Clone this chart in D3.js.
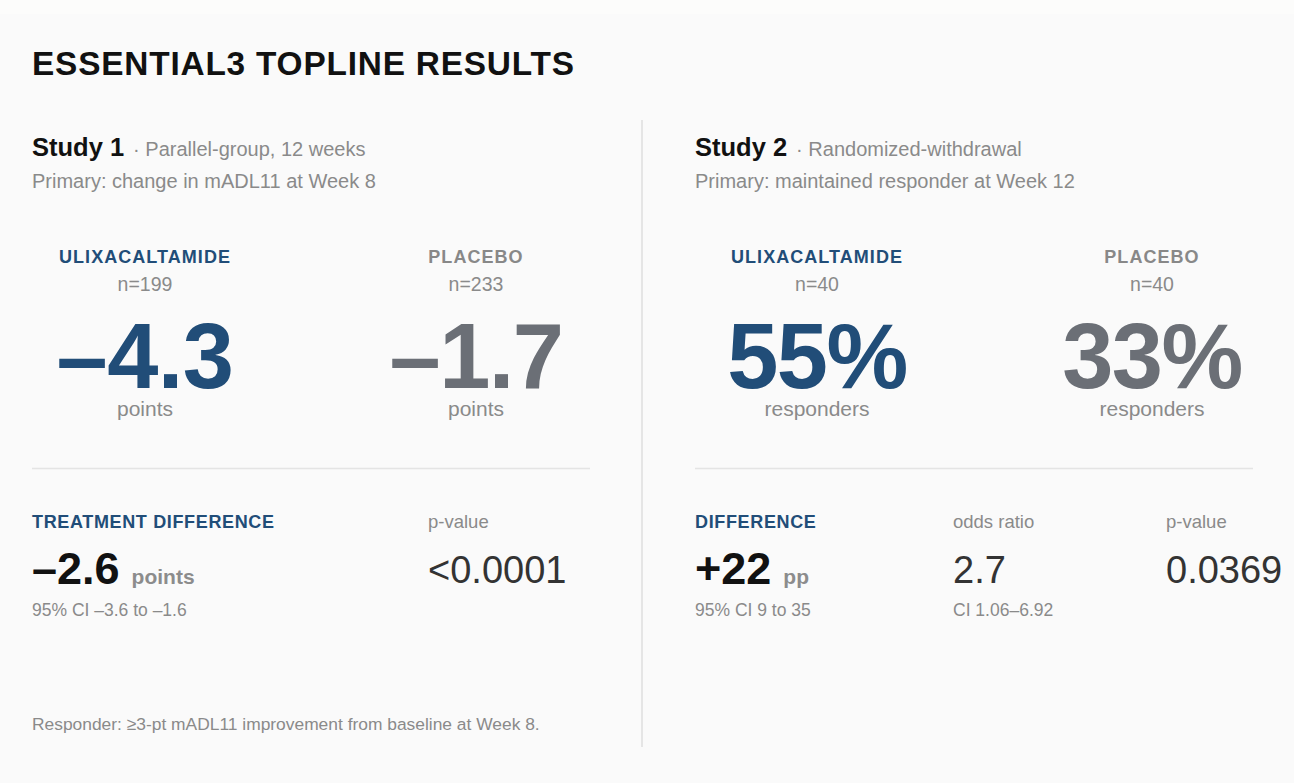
<!DOCTYPE html>
<html>
<head>
<meta charset="utf-8">
<script src="https://cdn.jsdelivr.net/npm/d3@7"></script>
<style>
  html, body { margin: 0; padding: 0; background: #fafafa; }
  svg { display: block; font-family: "Liberation Sans", Arial, Helvetica, sans-serif; }
</style>
</head>
<body>
<div id="chart"></div>
<script>
// Data
const title = "ESSENTIAL3 TOPLINE RESULTS";
const studies = ["Study 1", "Study 2"];
const designs = ["Parallel-group, 12 weeks", "Randomized-withdrawal"];
const primaries = ["Primary: change in mADL11 at Week 8", "Primary: maintained responder at Week 12"];
const arms = ["ULIXACALTAMIDE", "PLACEBO"];
const armN = [[199, 233], [40, 40]];
const armValues = [["–4.3", "–1.7"], ["55%", "33%"]];
const armUnits = ["points", "responders"];
const diffLabels = ["TREATMENT DIFFERENCE", "DIFFERENCE"];
const diffValues = ["–2.6", "+22"];
const diffUnits = ["points", "pp"];
const diffCIs = ["95% CI –3.6 to –1.6", "95% CI 9 to 35"];
const statLabels = [["p-value"], ["odds ratio", "p-value"]];
const statValues = [["<0.0001"], ["2.7", "0.0369"]];
const statNotes = [[""], ["CI 1.06–6.92", ""]];
const footnote = "Responder: ≥3-pt mADL11 improvement from baseline at Week 8.";

const width = 1294, height = 783;
const blue = "#214d78", grayBig = "#6b6f76", grayText = "#8a8a8a", dark = "#333";

const svg = d3.select("#chart").append("svg")
    .attr("width", width)
    .attr("height", height);

svg.append("rect").attr("width", width).attr("height", height).attr("fill", "#fafafa");
svg.append("rect").attr("width", width).attr("height", 14).attr("fill", "#fcfcfb");

svg.append("text")
    .attr("x", 32).attr("y", 75)
    .attr("font-size", 33.4).attr("font-weight", "bold")
    .attr("letter-spacing", 0.8)
    .attr("fill", "#111")
    .text(title);

// panel left edges and arm column centres
const panelX = d3.scaleOrdinal().domain(studies).range([32, 695]);
const armX = [
    d3.scalePoint().domain(arms).range([145, 476]),
    d3.scalePoint().domain(arms).range([817, 1152])
];
const statX = [[428], [953, 1166]];

// divider between panels
svg.append("line")
    .attr("x1", 642).attr("x2", 642)
    .attr("y1", 120).attr("y2", 747)
    .attr("stroke", "#dedede").attr("stroke-width", 1.5);

studies.forEach((s, i) => {
    const x0 = panelX(s);
    const g = svg.append("g");

    const head = g.append("text").attr("x", x0).attr("y", 156);
    head.append("tspan")
        .attr("font-size", 25.5).attr("font-weight", "bold").attr("fill", "#111")
        .text(s);
    head.append("tspan")
        .attr("font-size", 20).attr("fill", grayText)
        .attr("dx", 9)
        .text("· " + designs[i]);

    g.append("text")
        .attr("x", x0).attr("y", 188)
        .attr("font-size", 20).attr("fill", grayText)
        .text(primaries[i]);

    // arms
    arms.forEach((a, j) => {
        const cx = armX[i](a);
        const col = j === 0 ? blue : grayBig;
        g.append("text")
            .attr("x", cx).attr("y", 263)
            .attr("text-anchor", "middle")
            .attr("font-size", 18).attr("font-weight", "bold")
            .attr("letter-spacing", 1.05)
            .attr("fill", j === 0 ? blue : "#888")
            .text(a);
        g.append("text")
            .attr("x", cx).attr("y", 291)
            .attr("text-anchor", "middle")
            .attr("font-size", 19.5).attr("fill", grayText)
            .text("n=" + armN[i][j]);
        g.append("text")
            .attr("x", cx).attr("y", 388)
            .attr("text-anchor", "middle")
            .attr("font-size", 92).attr("font-weight", "bold")
            .attr("letter-spacing", j === 0 && i === 0 ? -0.5 : -1.5)
            .attr("fill", col)
            .text(armValues[i][j]);
        g.append("text")
            .attr("x", cx).attr("y", 416)
            .attr("text-anchor", "middle")
            .attr("font-size", 21).attr("fill", grayText)
            .text(armUnits[i]);
    });

    g.append("line")
        .attr("x1", x0).attr("x2", x0 + 558)
        .attr("y1", 468.5).attr("y2", 468.5)
        .attr("stroke", "#e4e4e4").attr("stroke-width", 1.5);

    // difference block
    g.append("text")
        .attr("x", x0).attr("y", 528)
        .attr("font-size", 18).attr("font-weight", "bold")
        .attr("letter-spacing", 0.65)
        .attr("fill", blue)
        .text(diffLabels[i]);
    const dv = g.append("text").attr("x", x0).attr("y", 584);
    dv.append("tspan")
        .attr("font-size", 45).attr("font-weight", "bold")
        .attr("fill", "#111")
        .text(diffValues[i]);
    dv.append("tspan")
        .attr("dx", 12)
        .attr("font-size", 21).attr("font-weight", "bold").attr("fill", "#8c8c8c")
        .text(diffUnits[i]);
    g.append("text")
        .attr("x", x0).attr("y", 616)
        .attr("font-size", 17.5).attr("fill", grayText)
        .text(diffCIs[i]);

    statLabels[i].forEach((lab, k) => {
        const sx = statX[i][k];
        g.append("text")
            .attr("x", sx).attr("y", 528)
            .attr("font-size", 18.5).attr("fill", grayText)
            .text(lab);
        g.append("text")
            .attr("x", sx).attr("y", 583)
            .attr("font-size", 38).attr("fill", dark)
            .text(statValues[i][k]);
        if (statNotes[i][k]) {
            g.append("text")
                .attr("x", sx).attr("y", 616)
                .attr("font-size", 17.5).attr("fill", grayText)
                .text(statNotes[i][k]);
        }
    });
});

svg.append("text")
    .attr("x", 32).attr("y", 730)
    .attr("font-size", 17.4).attr("fill", grayText)
    .text(footnote);
</script>
</body>
</html>
